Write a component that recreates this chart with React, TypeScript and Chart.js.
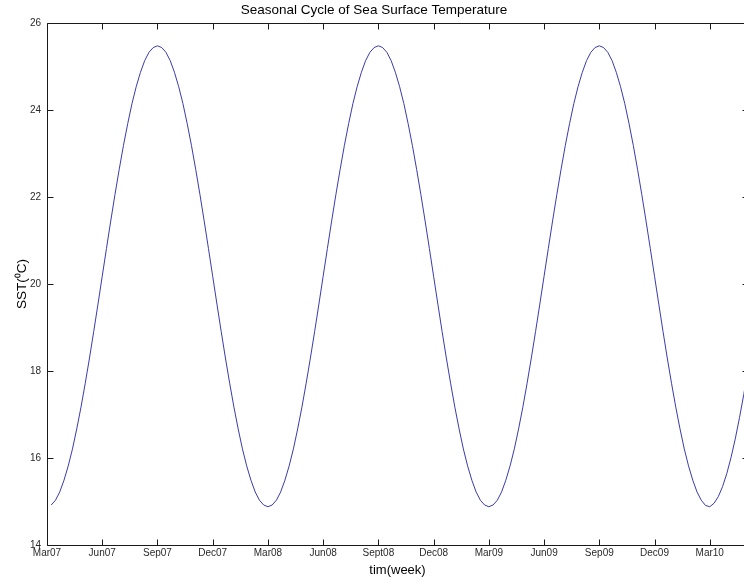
import React, { useEffect, useRef } from "react";
import { Chart, registerables } from "chart.js";

Chart.register(...registerables);

// Weekly SST values (°C)
const sstYear1 = [
  14.92, 15.03, 15.22, 15.49, 15.82, 16.21, 16.67, 17.17, 17.72, 18.30, 18.91, 19.54, 20.18,
  20.82, 21.45, 22.06, 22.64, 23.19, 23.69, 24.15, 24.54, 24.87, 25.14, 25.33, 25.44, 25.48,
  25.44, 25.33, 25.14, 24.87, 24.54, 24.15, 23.69, 23.19, 22.64, 22.06, 21.45, 20.82, 20.18,
  19.54, 18.91, 18.30, 17.72, 17.17, 16.67, 16.21, 15.82, 15.49, 15.22, 15.03, 14.92, 14.88,
];
const sstYear2 = [
  14.92, 15.03, 15.22, 15.49, 15.82, 16.21, 16.67, 17.17, 17.72, 18.30, 18.91, 19.54, 20.18,
  20.82, 21.45, 22.06, 22.64, 23.19, 23.69, 24.15, 24.54, 24.87, 25.14, 25.33, 25.44, 25.48,
  25.44, 25.33, 25.14, 24.87, 24.54, 24.15, 23.69, 23.19, 22.64, 22.06, 21.45, 20.82, 20.18,
  19.54, 18.91, 18.30, 17.72, 17.17, 16.67, 16.21, 15.82, 15.49, 15.22, 15.03, 14.92, 14.88,
];
const sstYear3 = [
  14.92, 15.03, 15.22, 15.49, 15.82, 16.21, 16.67, 17.17, 17.72, 18.30, 18.91, 19.54, 20.18,
  20.82, 21.45, 22.06, 22.64, 23.19, 23.69, 24.15, 24.54, 24.87, 25.14, 25.33, 25.44, 25.48,
  25.44, 25.33, 25.14, 24.87, 24.54, 24.15, 23.69, 23.19, 22.64, 22.06, 21.45, 20.82, 20.18,
  19.54, 18.91, 18.30, 17.72, 17.17, 16.67, 16.21, 15.82, 15.49, 15.22, 15.03, 14.91, 14.88,
];
const sstYear4 = [14.96, 15.11, 15.34, 15.64, 16.01, 16.44, 16.93, 17.46, 18.03];

const sstValues = [...sstYear1, ...sstYear2, ...sstYear3, ...sstYear4];

const xTickWeeks = [0, 13, 26, 39, 52, 65, 78, 91, 104, 117, 130, 143, 156];
const xTickLabels = [
  "Mar07", "Jun07", "Sep07", "Dec07", "Mar08", "Jun08", "Sept08",
  "Dec08", "Mar09", "Jun09", "Sep09", "Dec09", "Mar10",
];
const yTickValues = [14, 16, 18, 20, 22, 24, 26];

const X_MIN = 0;
const X_MAX = 165;
const TEXT = "#2a2a2a";
const FONT = "'Liberation Sans', Arial, sans-serif";

const framePlugin = {
  id: "matlabFrame",
  afterDraw(chart: any) {
    const { ctx, chartArea } = chart;
    const { left, right, top, bottom } = chartArea;
    const xs = chart.scales.x;
    const ys = chart.scales.y;
    const L = Math.round(left) + 0.5;
    const R = Math.round(right) + 0.5;
    const T = Math.round(top) + 0.5;
    const B = Math.round(bottom) + 0.5;
    const tl = 6;
    ctx.save();
    ctx.strokeStyle = "#1a1a1a";
    ctx.lineWidth = 1;
    ctx.beginPath();
    ctx.moveTo(L, T);
    ctx.lineTo(R, T);
    ctx.lineTo(R, B);
    ctx.lineTo(L, B);
    ctx.closePath();
    for (const w of xTickWeeks) {
      const px = Math.round(xs.getPixelForValue(w)) + 0.5;
      ctx.moveTo(px, B);
      ctx.lineTo(px, B - tl);
      ctx.moveTo(px, T);
      ctx.lineTo(px, T + tl);
    }
    for (const v of yTickValues) {
      const py = Math.round(ys.getPixelForValue(v)) + 0.5;
      ctx.moveTo(L, py);
      ctx.lineTo(L + tl, py);
      ctx.moveTo(R, py);
      ctx.lineTo(R - tl, py);
    }
    ctx.stroke();
    ctx.restore();
  },
};

export default function App() {
  const canvasRef = useRef<HTMLCanvasElement | null>(null);

  useEffect(() => {
    document.body.style.overflow = "hidden";
    const canvas = canvasRef.current;
    if (!canvas) return;
    const points = sstValues.map((v, i) => ({ x: i + 1, y: v }));
    const chart = new Chart(canvas, {
      type: "line",
      data: {
        datasets: [
          {
            data: points,
            borderColor: "#3b3bab",
            borderWidth: 1,
            pointRadius: 0,
            tension: 0,
            fill: false,
          },
        ],
      },
      options: {
        responsive: false,
        animation: false,
        layout: { padding: { left: 0, right: 12, top: 0, bottom: 0 } },
        plugins: {
          legend: { display: false },
          tooltip: { enabled: false },
          title: {
            display: true,
            text: "Seasonal Cycle of Sea Surface Temperature",
            color: "#000",
            font: { family: FONT, size: 13.5, weight: "normal" },
            padding: { top: 2, bottom: 5 },
          },
        },
        scales: {
          x: {
            type: "linear",
            min: X_MIN,
            max: X_MAX,
            grid: { display: false, drawTicks: false },
            border: { display: false },
            afterBuildTicks: (scale: any) => {
              scale.ticks = xTickWeeks.map((v) => ({ value: v }));
            },
            afterFit: (scale: any) => {
              scale.height = 33;
            },
            ticks: {
              autoSkip: false,
              maxRotation: 0,
              padding: 2,
              color: TEXT,
              font: { family: FONT, size: 10 },
              callback: (value: any) => {
                const i = xTickWeeks.indexOf(Number(value));
                return i >= 0 ? xTickLabels[i] : "";
              },
            },
            title: {
              display: true,
              text: "tim(week)",
              color: "#000",
              font: { family: FONT, size: 13 },
              padding: { top: 0, bottom: 0 },
            },
          },
          y: {
            type: "linear",
            min: 14,
            max: 26,
            grid: { display: false, drawTicks: false },
            border: { display: false },
            afterBuildTicks: (scale: any) => {
              scale.ticks = yTickValues.map((v) => ({ value: v }));
            },
            afterFit: (scale: any) => {
              scale.width = 47;
            },
            ticks: {
              padding: 6,
              color: TEXT,
              font: { family: FONT, size: 10 },
            },
            title: {
              display: true,
              text: "SST(\u2070C)",
              color: "#000",
              font: { family: FONT, size: 13.5 },
              padding: { top: 14, bottom: 0 },
            },
          },
        },
      },
      plugins: [framePlugin],
    });
    return () => chart.destroy();
  }, []);

  return (
    <div
      style={{
        position: "fixed",
        left: 0,
        top: 0,
        width: 744,
        height: 578,
        overflow: "hidden",
        background: "#fff",
      }}
    >
      <canvas ref={canvasRef} width={760} height={578} style={{ display: "block" }} />
    </div>
  );
}
